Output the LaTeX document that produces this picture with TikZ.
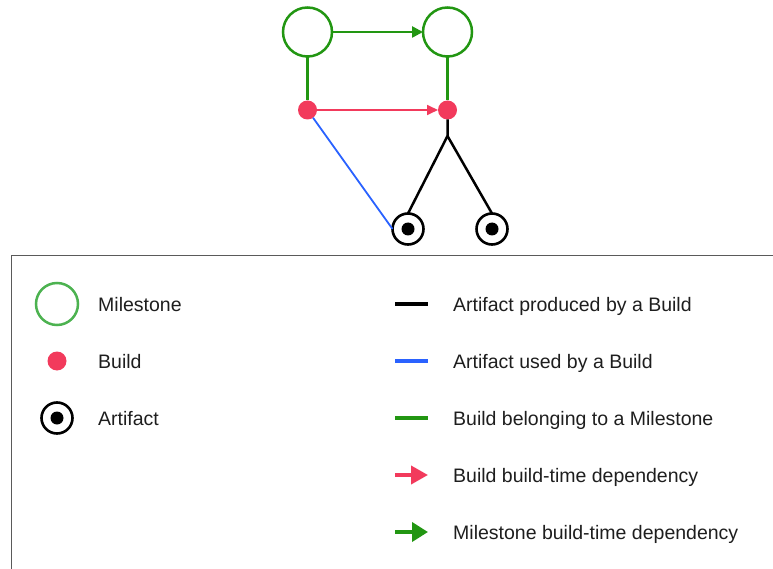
\documentclass[tikz,border=0pt]{standalone}
\usepackage{fontspec}
\setmainfont{Liberation Sans}
\usetikzlibrary{arrows.meta}
\definecolor{mgreen}{RGB}{34,150,18}
\definecolor{lgreen}{RGB}{76,178,80}
\definecolor{bred}{RGB}{242,58,92}
\definecolor{ublue}{RGB}{42,98,255}
\definecolor{txt}{RGB}{30,30,30}
\definecolor{frame}{RGB}{90,90,90}
\tikzset{
  milestone/.style={circle,draw=mgreen,line width=2.5pt,minimum size=49pt,inner sep=0pt,outer sep=0pt},
  buildnode/.style={circle,fill=bred,minimum size=19pt,inner sep=0pt,outer sep=0pt},
  artifact/.style={circle,draw=black,line width=2.6pt,minimum size=31pt,inner sep=0pt,outer sep=0pt,
     path picture={\fill[black] (path picture bounding box.center) circle (6.5pt);}},
  lbl/.style={anchor=base west,text=txt,font=\fontsize{19.5}{23}\selectfont,inner sep=0pt},
  legline/.style={line width=3.8pt},
  glink/.style={draw=mgreen,line width=2.5pt},
  blink/.style={draw=black,line width=2.5pt},
}
\begin{document}
\begin{tikzpicture}[x=1pt,y=-1pt]
\useasboundingbox (0,0) rectangle (773,569);
% top diagram
\node[milestone] (ms1) at (307.5,32) {};
\node[milestone] (ms2) at (447.5,32) {};
\node[buildnode] (b1) at (307.5,110) {};
\node[buildnode] (b2) at (447.5,110) {};
\node[artifact] (a1) at (408,229) {};
\node[artifact] (a2) at (492,229) {};
\coordinate (j) at (447.5,136);
\draw[glink,-{Triangle[length=11pt,width=11pt]}] (ms1) -- (ms2);
\draw[glink] (ms1) -- (b1);
\draw[glink] (ms2) -- (b2);
\draw[draw=bred,line width=1.7pt,-{Triangle[length=11pt,width=10pt]}] (b1) -- (b2);
\draw[draw=ublue,line width=1.8pt] (b1) -- (a1.west);
\draw[blink] (b2) -- (j) -- (a1.north);
\draw[blink] (j) -- (a2.north);
% legend frame
\draw[frame,line width=1pt] (11.5,590) -- (11.5,255.5) -- (790,255.5);
% legend left column
\node[circle,draw=lgreen,line width=2.5pt,minimum size=42pt,inner sep=0pt] (lms) at (57,304) {};
\node[lbl] (tms) at (98,311) {Milestone};
\node[buildnode] (lb) at (57,361) {};
\node[lbl] (tb) at (98,368) {Build};
\node[artifact] (la) at (57,418) {};
\node[lbl] (ta) at (98,425) {Artifact};
% legend right column
\coordinate (l1a) at (395,304); \coordinate (l1b) at (428,304);
\coordinate (l2a) at (395,361); \coordinate (l2b) at (428,361);
\coordinate (l3a) at (395,418); \coordinate (l3b) at (428,418);
\coordinate (l4a) at (395,475); \coordinate (l4b) at (428,475);
\coordinate (l5a) at (395,532); \coordinate (l5b) at (428,532);
\draw[legline,black] (l1a) -- (l1b);
\draw[legline,ublue] (l2a) -- (l2b);
\draw[legline,mgreen] (l3a) -- (l3b);
\draw[legline,bred,-{Triangle[length=17pt,width=18pt]}] (l4a) -- (l4b);
\draw[legline,mgreen,-{Triangle[length=16pt,width=19pt]}] (l5a) -- (l5b);
\node[lbl] (t1) at (453,311) {Artifact produced by a Build};
\node[lbl] (t2) at (453,368) {Artifact used by a Build};
\node[lbl] (t3) at (453,425) {Build belonging to a Milestone};
\node[lbl] (t4) at (453,482) {Build build-time dependency};
\node[lbl] (t5) at (453,539) {Milestone build-time dependency};
\end{tikzpicture}
\end{document}
